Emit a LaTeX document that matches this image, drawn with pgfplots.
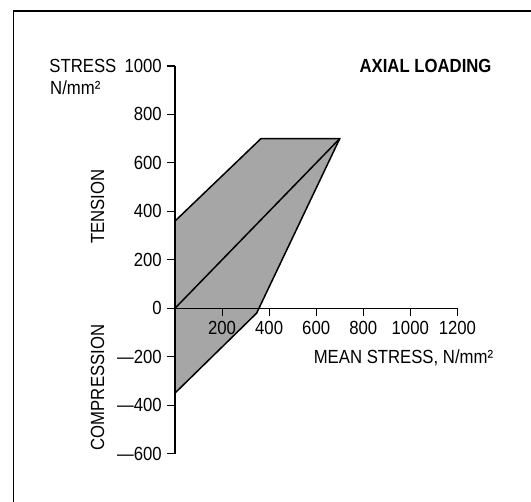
\documentclass[border=0pt]{standalone}
\usepackage{fontspec}
\setmainfont{Liberation Sans}[FakeStretch=0.88]
\usepackage{pgfplots}
\pgfplotsset{compat=1.18}

\begin{document}
\begin{tikzpicture}[font=\fontsize{19}{22}\selectfont, every node/.style={inner sep=0pt}]
\path[use as bounding box] (-175pt,-193.7pt) rectangle (356pt,308.3pt);
% frame: only top and left edges show
\draw[line width=1.3pt] (-161.7pt,-193.7pt) -- (-161.7pt,297.3pt) -- (356pt,297.3pt);
\begin{axis}[
    at={(0pt,0pt)}, anchor=origin,
    x=0.2353pt, y=0.2423pt,
    xmin=0, xmax=1200, ymin=-600, ymax=1000,
    axis x line=middle, axis y line=left,
    axis line style={-, line width=1.3pt},
    axis on top,
    clip=false,
    tick align=outside,
    major tick length=8pt,
    tick style={black, line width=1.1pt},
    xtick={200,400,600,800,1000,1200},
    ytick={-600,-400,-200,0,200,400,600,800,1000},
    yticklabels={—600,—400,—200,0,200,400,600,800,1000},
    /pgf/number format/assume math mode=true,
    /pgf/number format/1000 sep={},
    tick label style={font=\fontsize{19}{22}\selectfont},
    yticklabel style={inner sep=5pt},
    xticklabel style={inner sep=5pt},
]
\addplot[fill=black!35, draw=black, line width=1.5pt] coordinates {
    (0,360) (365,700) (700,700) (347,-20) (0,-350)
} -- cycle;
\addplot[black, line width=1.5pt] coordinates {(0,0) (700,700)};
\end{axis}
\node[anchor=base west] at (-125.7pt,235.6pt) {STRESS};
\node[anchor=base west] at (-125pt,213.3pt) {N/mm²};
\node[anchor=base east, font=\fontsize{19}{22}\selectfont\bfseries] at (316.7pt,235.6pt) {AXIAL LOADING};
\node[rotate=90] at (-77.3pt,101.6pt) {TENSION};
\node[rotate=90] at (-77.3pt,-79.2pt) {COMPRESSION};
\node[anchor=base east] at (318.3pt,-55pt) {MEAN STRESS, N/mm²};
\end{tikzpicture}
\end{document}
